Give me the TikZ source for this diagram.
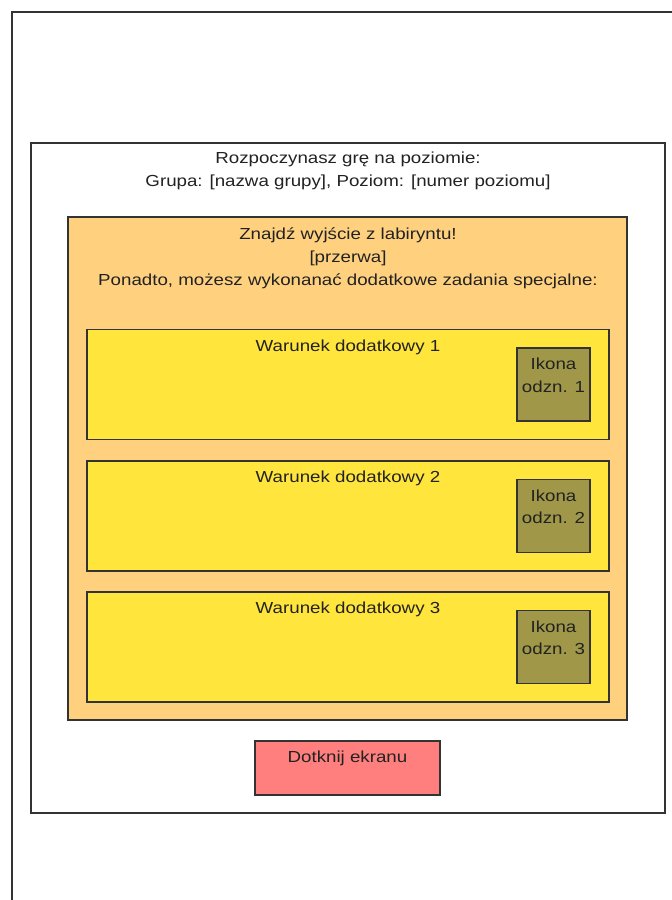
\documentclass[tikz,border=0pt]{standalone}
\usepackage{fontspec}
\setmainfont{Liberation Sans}[FakeStretch=1.17]
\definecolor{frameline}{HTML}{333333}
\definecolor{txt}{HTML}{222222}
\definecolor{panelorange}{HTML}{FFD17F}
\definecolor{condyellow}{HTML}{FFE53C}
\definecolor{iconolive}{HTML}{A09848}
\definecolor{touchred}{HTML}{FF7F7F}
\tikzset{
  box/.style={draw=frameline, line width=1.4pt, rectangle, inner sep=0pt},
  lbl/.style={text=txt, align=center, inner sep=0pt, font=\fontsize{16}{22.8}\selectfont},
}
\begin{document}
\begin{tikzpicture}[x=1pt,y=-1pt]
\useasboundingbox (0,0) rectangle (672,900);
\clip (0,0) rectangle (672,900);
% device screen, running past the edges
\draw[frameline, line width=1.4pt] (12,930) -- (12,12) -- (700,12);
% main dialog
\node[box, fill=white, minimum width=634pt, minimum height=670pt] (dialog) at (348,478) {};
\node[lbl] (title) at (348,170.5) {Rozpoczynasz grę na poziomie:\\Grupa: [nazwa grupy], Poziom: [numer poziomu]};
% task panel
\node[box, fill=panelorange, minimum width=559pt, minimum height=503pt] (panel) at (347.5,468.5) {};
\node[lbl] (task) at (348,258) {Znajdź wyjście z labiryntu!\\{[przerwa]}\\Ponadto, możesz wykonanać dodatkowe zadania specjalne:};
% extra conditions
\foreach \i/\y in {1/384.5, 2/516, 3/647}{
  \node[box, fill=condyellow, minimum width=522pt, minimum height=110pt] (cond\i) at (348,\y) {};
  \node[lbl, anchor=north] (condtxt\i) at ([yshift=-10.5pt]cond\i.north) {Warunek dodatkowy \i};
  \node[box, fill=iconolive, minimum width=73pt, minimum height=73pt] (icon\i) at (553.5,\y) {};
  \node[lbl, anchor=north] (icontxt\i) at ([yshift=-10.5pt]icon\i.north) {Ikona\\odzn. \i};
}
% touch prompt
\node[box, fill=touchred, minimum width=185pt, minimum height=54pt] (touch) at (347.5,768) {};
\node[lbl, anchor=north] (touchtxt) at ([yshift=-10.5pt]touch.north) {Dotknij ekranu};
\end{tikzpicture}
\end{document}
